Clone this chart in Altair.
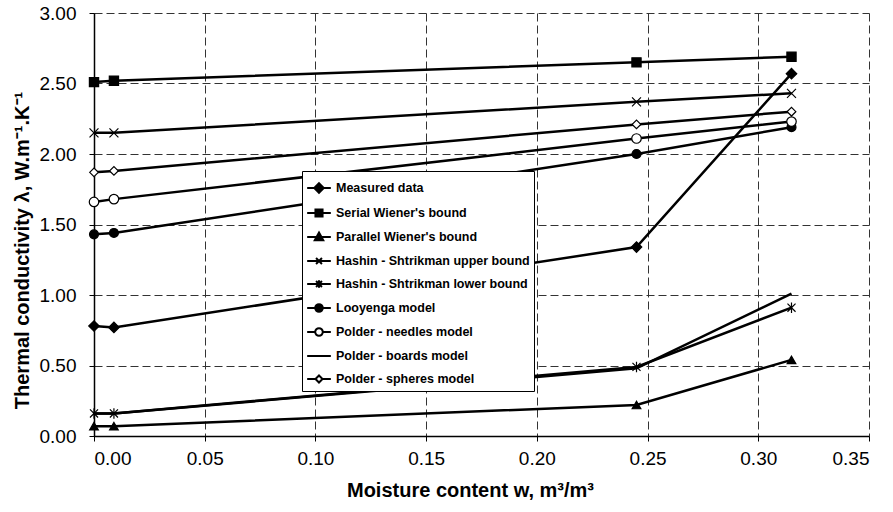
import altair as alt
import pandas as pd

# Moisture content (m3/m3) at which each model / measurement is evaluated
moisture = [0.0, 0.009, 0.245, 0.315]

series_names = [
    "Measured data",
    "Serial Wiener's bound",
    "Parallel Wiener's bound",
    "Hashin - Shtrikman upper bound",
    "Hashin - Shtrikman lower bound",
    "Looyenga model",
    "Polder - needles model",
    "Polder - boards model",
    "Polder - spheres model",
]

# Thermal conductivity (W/m/K) per series
measured = [0.78, 0.77, 1.34, 2.57]
serial_wiener = [2.51, 2.52, 2.65, 2.69]
parallel_wiener = [0.07, 0.07, 0.22, 0.54]
hs_upper = [2.15, 2.15, 2.37, 2.43]
hs_lower = [0.16, 0.16, 0.49, 0.91]
looyenga = [1.43, 1.44, 2.00, 2.19]
polder_needles = [1.66, 1.68, 2.11, 2.23]
polder_boards = [0.16, 0.16, 0.48, 1.01]
polder_spheres = [1.87, 1.88, 2.21, 2.30]

series_values = [measured, serial_wiener, parallel_wiener, hs_upper, hs_lower,
                 looyenga, polder_needles, polder_boards, polder_spheres]

x_ticks = [0.0, 0.05, 0.10, 0.15, 0.20, 0.25, 0.30, 0.35]
y_ticks = [0.0, 0.5, 1.0, 1.5, 2.0, 2.5, 3.0]

rows = []
for name, vals in zip(series_names, series_values):
    for w, lam in zip(moisture, vals):
        rows.append({"series": name, "w": w, "lam": lam})
df = pd.DataFrame(rows)

X_CROSS = "M-1,-1L1,1M-1,1L1,-1"
ASTERISK = "M-1,-1L1,1M-1,1L1,-1M0,-1.3L0,1.3"

# marker style per series: (shape, fill, size); None = line only
marker_styles = {
    "Measured data": ("diamond", "black", 110),
    "Serial Wiener's bound": ("square", "black", 85),
    "Parallel Wiener's bound": ("triangle-up", "black", 75),
    "Hashin - Shtrikman upper bound": (X_CROSS, "black", 80),
    "Hashin - Shtrikman lower bound": (ASTERISK, "black", 65),
    "Looyenga model": ("circle", "black", 80),
    "Polder - needles model": ("circle", "white", 90),
    "Polder - boards model": None,
    "Polder - spheres model": ("diamond", "white", 75),
}

# legend glyphs: a short line segment with the marker on top
L = "M-1,0L1,0"
legend_paths = [
    L + "M0,-0.4L0.4,0L0,0.4L-0.4,0Z",
    L + "M-0.3,-0.3L0.3,-0.3L0.3,0.3L-0.3,0.3Z",
    L + "M0,-0.38L0.36,0.28L-0.36,0.28Z",
    L + "M-0.25,-0.25L0.25,0.25M-0.25,0.25L0.25,-0.25",
    L + "M-0.25,-0.25L0.25,0.25M-0.25,0.25L0.25,-0.25M0,-0.32L0,0.32",
    L + "M0.32,0A0.32,0.32,0,1,1,-0.32,0A0.32,0.32,0,1,1,0.32,0Z",
    "M-1,0L-0.32,0M0.32,0L1,0M0.32,0A0.32,0.32,0,1,1,-0.32,0A0.32,0.32,0,1,1,0.32,0Z",
    L,
    "M-1,0L-0.3,0M0.3,0L1,0M0,-0.3L0.3,0L0,0.3L-0.3,0Z",
]
legend_fills = ["black", "black", "black", "black", "black",
                "black", "white", "black", "white"]
legend_strokes = ["black"] * len(series_names)

x_enc = alt.X(
    "w:Q",
    scale=alt.Scale(domain=[0, 0.35], nice=False, zero=False),
    axis=alt.Axis(values=x_ticks, format=".2f", title="Moisture content w, m³/m³",
                  titlePadding=12, titleX=376, labelPadding=8),
)
y_enc = alt.Y(
    "lam:Q",
    scale=alt.Scale(domain=[0, 3], nice=False),
    axis=alt.Axis(values=y_ticks, format=".2f",
                  title="Thermal conductivity λ, W.m⁻¹.K⁻¹",
                  titleX=-66, titleY=237, titleAngle=270, titleAlign="center",
                  titleBaseline="alphabetic", labelPadding=13),
)

base = alt.Chart(df)

lines = base.mark_line(color="black", strokeWidth=2.5).encode(
    x=x_enc, y=y_enc, detail="series:N"
)

marker_layers = []
for name in series_names:
    style = marker_styles[name]
    if style is None:
        continue
    shape, fill, size = style
    marker_layers.append(
        base.transform_filter(alt.datum.series == name)
        .mark_point(shape=shape, fill=fill, filled=True, size=size,
                    stroke="black", strokeWidth=1.2, opacity=1)
        .encode(x=x_enc, y=y_enc)
    )

legend_def = alt.Legend(
    title=None, orient="none", legendX=208, legendY=158,
    symbolOpacity=1, symbolSize=560, labelLimit=320,
    symbolStrokeWidth=2,
)
# invisible points that only carry the legend
legend_layer = base.mark_point(filled=False, opacity=0, strokeWidth=2).encode(
    x=x_enc,
    y=y_enc,
    shape=alt.Shape("series:N",
                    scale=alt.Scale(domain=series_names, range=legend_paths),
                    legend=legend_def),
    fill=alt.Fill("series:N",
                  scale=alt.Scale(domain=series_names, range=legend_fills),
                  legend=legend_def),
    stroke=alt.Stroke("series:N",
                      scale=alt.Scale(domain=series_names, range=legend_strokes),
                      legend=legend_def),
)

chart = alt.layer(lines, *marker_layers, legend_layer).properties(
    width=775,
    height=423,
    autosize=alt.AutoSizeParams(type="none"),
    padding={"left": 94, "top": 13, "right": 24, "bottom": 76},
    background="white",
).configure_view(
    stroke=None
).configure_axis(
    labelFont="Liberation Sans",
    labelFontSize=19,
    labelColor="black",
    titleFont="Liberation Sans",
    titleFontSize=20,
    titleFontWeight="bold",
    titleColor="black",
    domainColor="black",
    domainWidth=1.5,
    tickColor="black",
    tickSize=5,
    tickWidth=1,
    grid=True,
    gridColor="#333333",
    gridDash=[8, 4],
    gridWidth=1,
    gridOpacity=1,
).configure_legend(
    labelFont="Liberation Sans",
    labelFontSize=12.5,
    labelFontWeight="bold",
    labelColor="black",
    strokeColor="black",
    strokeWidth=1,
    fillColor="white",
    padding=4,
    rowPadding=3,
    labelOffset=4,
    cornerRadius=0,
)

chart.save("out.html", embed_options={"renderer": "svg", "actions": False})
